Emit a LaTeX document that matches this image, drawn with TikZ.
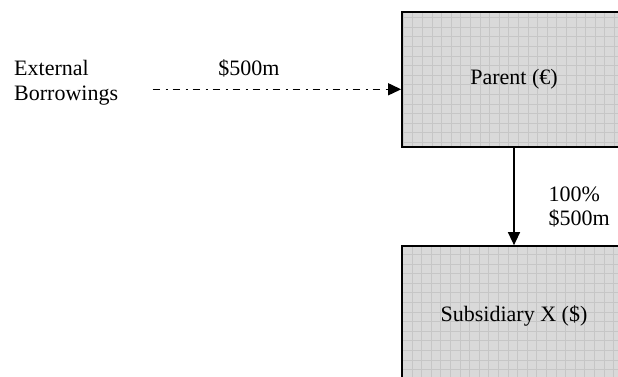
\documentclass[tikz,border=0pt]{standalone}
\usepackage{fontspec}
\setmainfont{Liberation Serif}
\usetikzlibrary{arrows.meta}
\definecolor{boxfill}{HTML}{D9D9D9}
\definecolor{boxgrid}{HTML}{C6C6C6}
\tikzset{
  entity/.style={draw=black, line width=1.7pt, fill=boxfill,
    minimum width=224pt, inner sep=0pt,
    path picture={\draw[boxgrid, line width=0.7pt]
      (path picture bounding box.south west) grid[step=9.6pt]
      (path picture bounding box.north east);}},
  plain/.style={inner sep=0pt, align=left},
  flow/.style={line width=1.3pt, -{Triangle[length=13pt,width=12pt]}},
  loan/.style={flow, dash pattern=on 7pt off 6pt on 2pt off 5pt},
}
\begin{document}
\begin{tikzpicture}[x=1pt, y=-1pt, font=\fontsize{22}{24.5}\selectfont]
  \useasboundingbox (0,0) rectangle (618,376);
  \clip (0,0) rectangle (618,376);

  % group entities
  \node[entity, minimum height=135pt] (parent) at (514,79.5) {Parent (€)};
  \node[entity, minimum height=140pt] (sub) at (514,316) {Subsidiary X (\$)};

  % external funding source (base anchor sits on the last line)
  \node[plain, anchor=base west] (ext) at (14,100.2) {External\\Borrowings};
  \coordinate (bstart) at (152.5,89.3);
  \node[plain, anchor=base] (loanamt) at (249,75.7) {\$500m};
  \draw[loan] (bstart) -- (bstart -| parent.west);

  % investment in the subsidiary
  \draw[flow] (parent.south) -- (sub.north);
  \node[plain, anchor=base west] (stake) at (548.3,225.5) {100\%\\\$500m};
\end{tikzpicture}
\end{document}
